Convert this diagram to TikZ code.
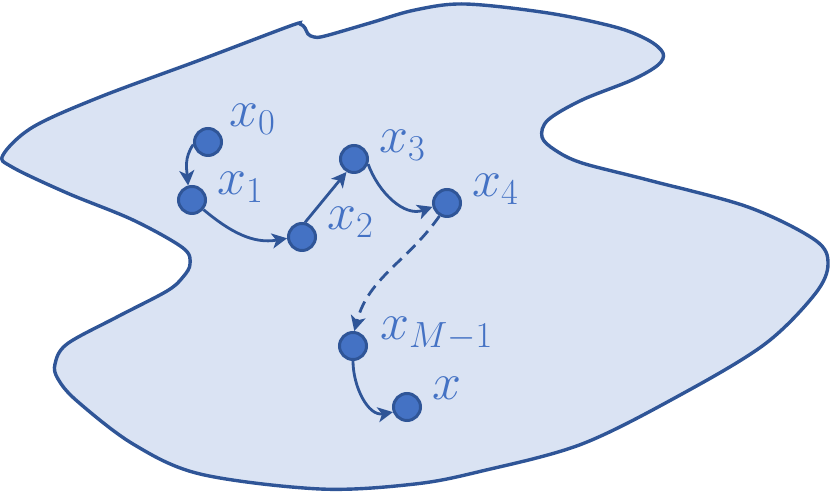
\RequirePackage{fix-cm}
\documentclass[tikz,border=0pt]{standalone}
\usepackage{amsmath,amssymb}
\usepackage{tikz}
\usetikzlibrary{calc}
\usetikzlibrary{arrows.meta,positioning}
\definecolor{regionfill}{RGB}{218,227,243}
\definecolor{regionline}{RGB}{47,85,151}
\definecolor{iterblue}{RGB}{68,114,196}

\begin{document}
\begin{tikzpicture}[x=1pt, y=1pt]
      % styles
      \tikzstyle{iter}=[circle,draw=regionline,fill=iterblue,line width=3pt,
                        minimum size=27pt,inner sep=0pt]
      \tikzstyle{lbl}=[anchor=base west,inner sep=0pt,text=iterblue,
                       font=\fontsize{52}{62}\selectfont]
      \tikzstyle{move}=[draw=regionline,line width=2.8pt,
                        -{Stealth[length=15pt,width=15pt,inset=4pt]}]

      \useasboundingbox (0,0) rectangle (830,494);

      % region
      \draw[fill=regionfill,draw=regionline,line width=3.4pt]
        plot[smooth cycle,tension=0.55] coordinates {
          (3,339) (33,367) (100,397) (200,434) (290,468) (300,470)
          (305,466) (308,460) (314,457) (325,458) (370,471) (415,484)
          (465,490) (548,481) (615,467) (648,454) (663,441) (658,429)
          (632,414) (582,394) (548,374) (542,357) (555,344) (582,331)
          (648,314) (748,287) (815,254) (828,230) (815,200) (765,150)
          (682,100) (582,50) (482,23) (415,10) (320,5) (200,20) (133,50)
          (77,93) (58,115) (55,130) (67,150) (117,177) (167,203) (183,217)
          (190,230) (183,246) (133,274) (67,301) (12,327)};

      % nodes
      \node[iter] (x0) at (208,352) {};
      \node[iter] (x1) at (192,294) {};
      \node[iter] (x2) at (302,257) {};
      \node[iter] (x3) at (354,335) {};
      \node[iter] (x4) at (447,291) {};
      \node[iter] (xm) at (353,148) {};
      \node[iter] (xs) at (407,87)  {};

      % labels
      \node[lbl] (l0) at (229,367) {$x_0$};
      \node[lbl] (l1) at (217,299) {$x_1$};
      \node[lbl] (l2) at (327,264) {$x_2$};
      \node[lbl] (l3) at (379,341) {$x_3$};
      \node[lbl] (l4) at (472,297) {$x_4$};
      \node[lbl] (lm) at (380,154) {$x_{M-1}$};
      \node[lbl] (ls) at (432,94)  {$x$};

      % arrows
      \draw[move] (x0.190) to[out=235,in=95] (x1.105);
      \draw[move] (x1.-40) to[out=-40,in=190] (x2.185);
      \draw[move] (x2.78) -- (x3.240);
      \draw[move] (x3.-20) to[out=-70,in=200] (x4.195);
      \draw[move,dashed,dash pattern=on 12pt off 7pt] (x4.240) to[out=235,in=75] (xm.85);
      \draw[move] (xm.-90) to[out=-90,in=190] (xs.200);
    \end{tikzpicture}
\end{document}
